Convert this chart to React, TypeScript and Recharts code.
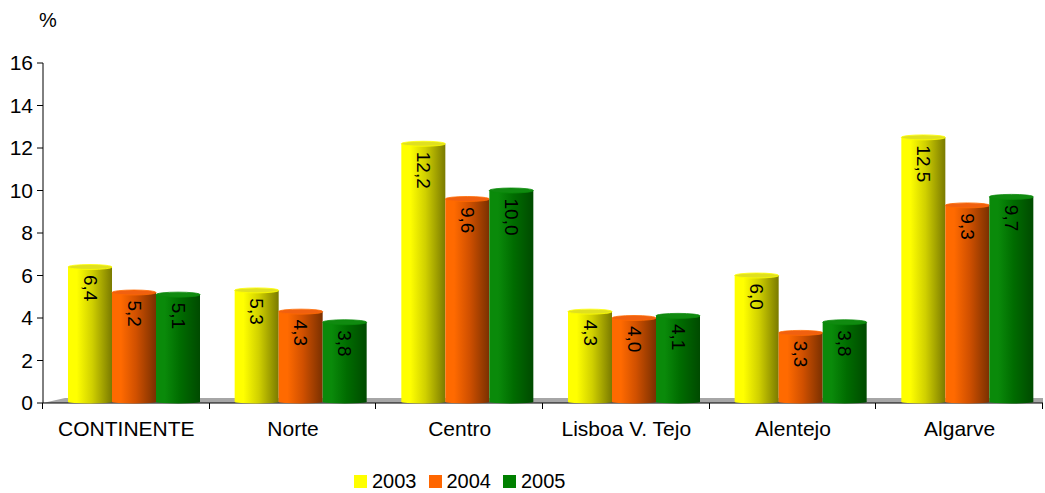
import React from 'react';
import {
  BarChart,
  Bar,
  XAxis,
  YAxis,
  ReferenceArea,
  LabelList,
} from 'recharts';

const regions = ['CONTINENTE', 'Norte', 'Centro', 'Lisboa V. Tejo', 'Alentejo', 'Algarve'];
const years = ['2003', '2004', '2005'];
const values2003 = [6.4, 5.3, 12.2, 4.3, 6.0, 12.5];
const values2004 = [5.2, 4.3, 9.6, 4.0, 3.3, 9.3];
const values2005 = [5.1, 3.8, 10.0, 4.1, 3.8, 9.7];
const yTicks = [0, 2, 4, 6, 8, 10, 12, 14, 16];

const data = regions.map((name, i) => ({
  name,
  y2003: values2003[i],
  y2004: values2004[i],
  y2005: values2005[i],
}));

// cylinder shading per series
const palette = [
  { key: 'y2003', swatch: '#ffff00', light: '#ffff00', mid: '#d0d000', dark: '#7a7a00', cap: '#e0e020' },
  { key: 'y2004', swatch: '#ff6600', light: '#ff6a00', mid: '#d05000', dark: '#7a3000', cap: '#f06010' },
  { key: 'y2005', swatch: '#008000', light: '#0a8a0a', mid: '#006c00', dark: '#004a00', cap: '#108a10' },
];

const SHIFT = 8;
const fmt = (v: number) => v.toFixed(1).replace('.', ',');

const makeCylinder = (idx: number) => (props: any) => {
  const { x, y, width, height } = props;
  if (width == null || height == null) return null;
  const p = palette[idx];
  const left = x + SHIFT;
  return (
    <g>
      <rect x={left} y={y} width={width} height={height - 1} fill={`url(#cyl${idx})`} />
      <ellipse cx={left + width / 2} cy={y + height - 1} rx={width / 2} ry={1.5} fill={`url(#cyl${idx})`} />
      <ellipse cx={left + width / 2} cy={y} rx={width / 2} ry={2.5} fill={p.cap} stroke={p.light} strokeWidth={0.8} />
    </g>
  );
};

const renderLabel = (props: any) => {
  const { x, y, width, value } = props;
  const cx = x + SHIFT + width / 2;
  const ty = y + 8;
  return (
    <text
      x={cx}
      y={ty}
      transform={`rotate(90 ${cx} ${ty})`}
      textAnchor="start"
      dominantBaseline="central"
      fontSize={19}
      fill="#000"
      fontFamily="'Liberation Sans', Arial, sans-serif"
    >
      {fmt(value)}
    </text>
  );
};

// gray floor plus the x axis line and category boundary ticks
const floorShape = (props: any) => {
  const { x, y, width, height } = props;
  const base = y + height;
  const n = regions.length;
  return (
    <g>
      <polygon
        points={`${x + 22},${y} ${x + width},${y} ${x + width},${base} ${x},${base}`}
        fill="#a6a6a6"
      />
      <line x1={x} y1={base} x2={x + width} y2={base} stroke="#000" strokeWidth={1} />
      {Array.from({ length: n + 1 }, (_, k) => {
        const tx = Math.round(x + (width * k) / n) - 0.5;
        return <line key={k} x1={tx} y1={base} x2={tx} y2={base + 6} stroke="#000" strokeWidth={1} />;
      })}
    </g>
  );
};

export default function App() {
  const font = "'Liberation Sans', Arial, sans-serif";
  return (
    <div style={{ position: 'absolute', left: 0, top: 0, width: 1045, height: 493, background: '#fff', fontFamily: font }}>
      <div style={{ position: 'absolute', left: 39, top: 9, fontSize: 20, color: '#000' }}>%</div>
      <BarChart
        width={1045}
        height={493}
        data={data}
        margin={{ top: 63, right: 2, bottom: 0, left: 0 }}
        barGap={0}
        barSize={44}
      >
        <defs>
          {palette.map((p, i) => (
            <linearGradient key={p.key} id={`cyl${i}`} x1="0" y1="0" x2="1" y2="0">
              <stop offset="0%" stopColor={p.light} />
              <stop offset="20%" stopColor={p.light} />
              <stop offset="55%" stopColor={p.mid} />
              <stop offset="100%" stopColor={p.dark} />
            </linearGradient>
          ))}
        </defs>
        <ReferenceArea y1={0} y2={0.24} shape={floorShape} ifOverflow="visible" />
        <XAxis
          dataKey="name"
          height={90}
          axisLine={false}
          tickLine={false}
          tickMargin={12}
          interval={0}
          tick={{ fill: '#000', fontSize: 21, fontFamily: font }}
        />
        <YAxis
          domain={[0, 16]}
          ticks={yTicks}
          width={43}
          tickSize={6}
          tickMargin={4}
          axisLine={{ stroke: '#000' }}
          tickLine={{ stroke: '#000' }}
          tick={{ fill: '#000', fontSize: 21, fontFamily: font }}
        />
        {palette.map((p, i) => (
          <Bar
            key={p.key}
            dataKey={p.key}
            name={years[i]}
            fill={p.swatch}
            shape={makeCylinder(i)}
            isAnimationActive={false}
          >
            <LabelList dataKey={p.key} content={renderLabel} />
          </Bar>
        ))}
      </BarChart>
      <div style={{ position: 'absolute', left: 354, top: 470, display: 'flex', alignItems: 'center', fontSize: 20, color: '#000' }}>
        {palette.map((p, i) => (
          <div key={p.key} style={{ display: 'flex', alignItems: 'center', marginRight: 12 }}>
            <span style={{ display: 'inline-block', width: 13, height: 13, background: p.swatch, marginRight: 5 }} />
            <span>{years[i]}</span>
          </div>
        ))}
      </div>
    </div>
  );
}
